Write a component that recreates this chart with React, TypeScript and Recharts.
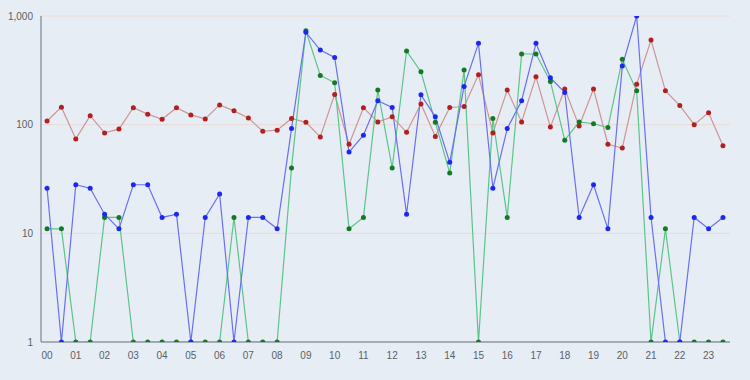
import React from "react";
import { LineChart, Line, XAxis, YAxis, CartesianGrid } from "recharts";

const hourLabels = ["00","01","02","03","04","05","06","07","08","09","10","11","12","13","14","15","16","17","18","19","20","21","22","23"];

const redSeries = [108,145,74,121,84,91,143,125,112,143,123,113,152,134,115,87,89,114,105,77,190,66,143,106,118,85,155,78,144,147,288,84,208,106,276,95,213,97,213,66,61,236,600,205,150,100,129,64];
const blueSeries = [26,1,28,26,15,11,28,28,14,15,1,14,23,1,14,14,11,92,707,486,416,56,80,166,144,15,188,118,45,225,560,26,92,166,560,270,198,14,28,11,346,1000,14,1,1,14,11,14];
const greenSeries = [11,11,1,1,14,14,1,1,1,1,1,1,1,14,1,1,1,40,731,284,243,11,14,208,40,476,307,105,36,318,1,114,14,447,447,250,72,106,102,94,399,205,1,11,1,1,1,1];

const yTicks = [1, 10, 100, 1000];

const data = redSeries.map((v, i) => ({
  idx: i,
  red: v,
  blue: blueSeries[i],
  green: greenSeries[i],
}));

const xTicks = hourLabels.map((_, h) => h * 2);

const tickStyle = { fontSize: 10, fill: "#5a5f66", fontFamily: "'Liberation Sans', Arial, sans-serif" };

export default function App() {
  return (
    <div style={{ position: "absolute", left: 0, top: 0, width: 750, height: 380, background: "#e7edf4" }}>
      <LineChart width={750} height={380} data={data} margin={{ top: 16, right: 20, bottom: 0, left: 0 }}>
        <CartesianGrid vertical={false} stroke="#eadbd6" strokeWidth={1} />
        <XAxis
          dataKey="idx"
          type="number"
          domain={[-0.42, 47.49]}
          allowDataOverflow
          ticks={xTicks}
          tickFormatter={(v: number) => hourLabels[v / 2]}
          tick={tickStyle}
          tickLine={false}
          axisLine={{ stroke: "#8e9aa6", strokeWidth: 1.5 }}
          height={38}
          tickMargin={4}
        />
        <YAxis
          scale="log"
          domain={[1, 1000]}
          allowDataOverflow
          ticks={yTicks}
          tickFormatter={(v: number) => v.toLocaleString("en-US")}
          tick={tickStyle}
          tickLine={false}
          axisLine={{ stroke: "#8e9aa6", strokeWidth: 1.5 }}
          width={41}
          tickMargin={2}
        />
        <Line
          dataKey="red"
          stroke="#cf9494"
          strokeWidth={1.2}
          dot={{ r: 2.5, fill: "#b11f1f", stroke: "#b11f1f", strokeWidth: 0 }}
          isAnimationActive={false}
        />
        <Line
          dataKey="green"
          stroke="#5cc48a"
          strokeWidth={1.2}
          dot={{ r: 2.5, fill: "#137a22", stroke: "#137a22", strokeWidth: 0 }}
          isAnimationActive={false}
        />
        <Line
          dataKey="blue"
          stroke="#6a70f0"
          strokeWidth={1.2}
          dot={{ r: 2.5, fill: "#1c27f2", stroke: "#1c27f2", strokeWidth: 0 }}
          isAnimationActive={false}
        />
      </LineChart>
    </div>
  );
}
